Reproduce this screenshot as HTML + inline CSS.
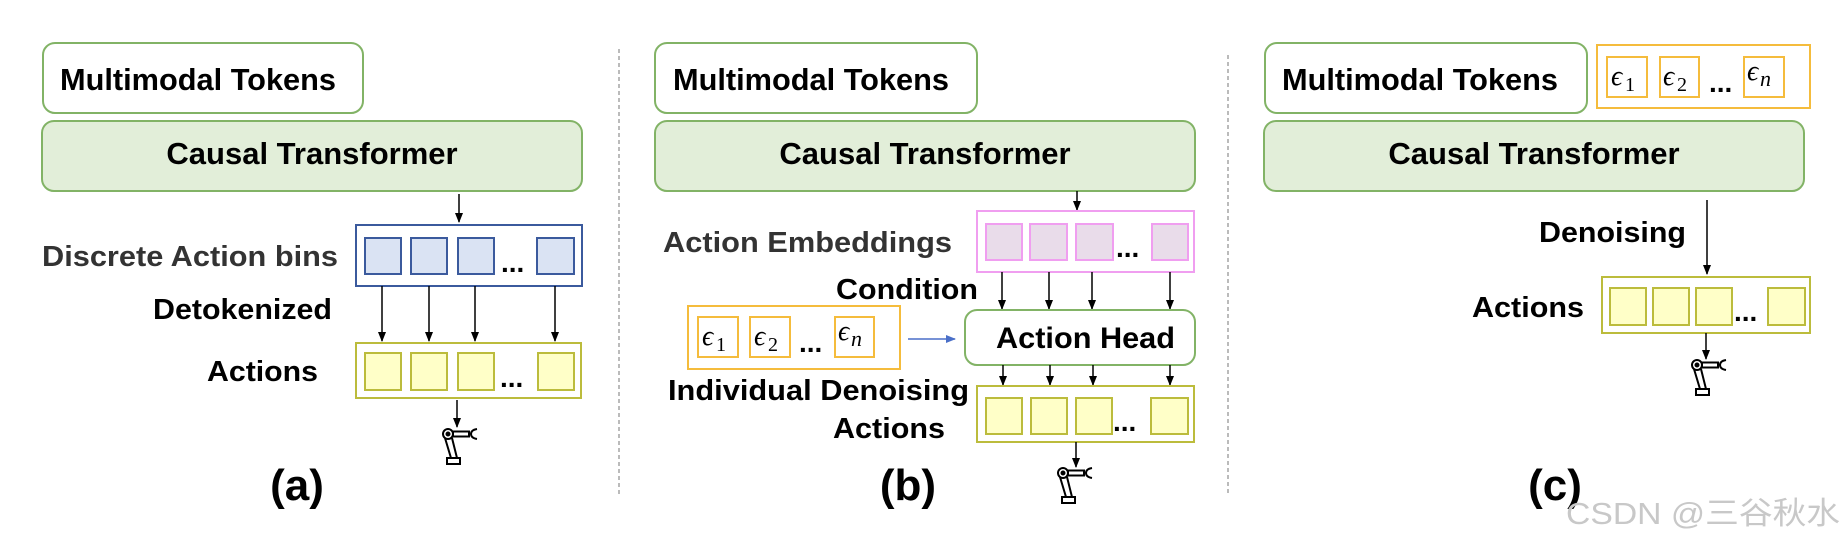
<!DOCTYPE html>
<html><head><meta charset="utf-8"><style>
html,body{margin:0;padding:0;background:#fff;}
svg{display:block;}
text{font-family:"Liberation Sans",sans-serif;font-weight:bold;}
.e{font-family:"Liberation Serif",serif;font-style:italic;font-weight:normal;}
.s{font-family:"Liberation Serif",serif;font-weight:normal;}
</style></head><body>
<svg width="1842" height="542" viewBox="0 0 1842 542" xmlns="http://www.w3.org/2000/svg">
<defs>
<marker id="ah" markerWidth="10" markerHeight="10" refX="9" refY="5" orient="auto" markerUnits="userSpaceOnUse">
<path d="M0,1 L10,5 L0,9 z" fill="#000"/></marker>
<marker id="bh" markerWidth="10" markerHeight="10" refX="9" refY="5" orient="auto" markerUnits="userSpaceOnUse">
<path d="M0,1 L10,5 L0,9 z" fill="#4a6fc8"/></marker>
<g id="robot" fill="none" stroke="#000" stroke-width="2">
<circle cx="-9" cy="6" r="5"/><circle cx="-9" cy="6" r="1.5" fill="#000"/>
<rect x="-4" y="3.5" width="16" height="5"/>
<path d="M20,1 Q14,2 14,6 Q14,10 20,11"/>
<path d="M-12,10 L-6,30 L0,30 L-5,10"/>
<rect x="-10" y="30" width="13" height="6"/>
</g>
</defs>

<!-- dashed separators -->
<line x1="619" y1="49" x2="619" y2="497" stroke="#777" stroke-width="1" stroke-dasharray="4,3"/>
<line x1="1228" y1="55" x2="1228" y2="495" stroke="#777" stroke-width="1" stroke-dasharray="4,3"/>

<!-- ===== Panel a ===== -->
<rect x="43" y="43" width="320" height="70" rx="12" fill="#fff" stroke="#82b366" stroke-width="2"/>
<text x="60" y="90" font-size="31" textLength="276" lengthAdjust="spacingAndGlyphs">Multimodal Tokens</text>
<rect x="42" y="121" width="540" height="70" rx="12" fill="#e2eed9" stroke="#82b366" stroke-width="2"/>
<text x="312" y="164" font-size="31" text-anchor="middle">Causal Transformer</text>
<line x1="459" y1="194" x2="459" y2="222" stroke="#000" stroke-width="1.5" marker-end="url(#ah)"/>
<rect x="356" y="225" width="226" height="61" fill="#fff" stroke="#3b5a9d" stroke-width="2"/>
<g fill="#dae3f3" stroke="#3b5a9d" stroke-width="2">
<rect x="365" y="238" width="36" height="36"/><rect x="411" y="238" width="36" height="36"/>
<rect x="458" y="238" width="36" height="36"/><rect x="537" y="238" width="37" height="36"/></g>
<text x="501" y="272" font-size="28">...</text>
<text x="42" y="266" font-size="29" fill="#333" textLength="296" lengthAdjust="spacingAndGlyphs">Discrete Action bins</text>
<g stroke="#000" stroke-width="1.5" marker-end="url(#ah)">
<line x1="382" y1="286" x2="382" y2="341"/><line x1="429" y1="286" x2="429" y2="341"/>
<line x1="475" y1="286" x2="475" y2="341"/><line x1="555" y1="286" x2="555" y2="341"/></g>
<text x="153" y="319" font-size="29" textLength="179" lengthAdjust="spacingAndGlyphs">Detokenized</text>
<rect x="356" y="343" width="225" height="55" fill="#fff" stroke="#bcbc3c" stroke-width="2"/>
<g fill="#ffffc8" stroke="#bcbc3c" stroke-width="2">
<rect x="365" y="353" width="36" height="37"/><rect x="411" y="353" width="36" height="37"/>
<rect x="458" y="353" width="36" height="37"/><rect x="538" y="353" width="36" height="37"/></g>
<text x="500" y="387" font-size="28">...</text>
<text x="207" y="381" font-size="29" textLength="111" lengthAdjust="spacingAndGlyphs">Actions</text>
<line x1="457" y1="400" x2="457" y2="427" stroke="#000" stroke-width="1.5" marker-end="url(#ah)"/>
<use href="#robot" x="457" y="428"/>
<text x="297" y="500" font-size="44" text-anchor="middle">(a)</text>

<!-- ===== Panel b ===== -->
<rect x="655" y="43" width="322" height="70" rx="12" fill="#fff" stroke="#82b366" stroke-width="2"/>
<text x="673" y="90" font-size="31" textLength="276" lengthAdjust="spacingAndGlyphs">Multimodal Tokens</text>
<rect x="655" y="121" width="540" height="70" rx="12" fill="#e2eed9" stroke="#82b366" stroke-width="2"/>
<text x="925" y="164" font-size="31" text-anchor="middle">Causal Transformer</text>
<line x1="1077" y1="191" x2="1077" y2="210" stroke="#000" stroke-width="1.5" marker-end="url(#ah)"/>
<rect x="977" y="211" width="217" height="61" fill="#fff" stroke="#f09ef0" stroke-width="2"/>
<g fill="#e9dcea" stroke="#f09ef0" stroke-width="2">
<rect x="986" y="224" width="36" height="36"/><rect x="1030" y="224" width="37" height="36"/>
<rect x="1076" y="224" width="37" height="36"/><rect x="1152" y="224" width="36" height="36"/></g>
<text x="1116" y="257" font-size="28">...</text>
<text x="663" y="252" font-size="29" fill="#333" textLength="289" lengthAdjust="spacingAndGlyphs">Action Embeddings</text>
<g stroke="#000" stroke-width="1.5" marker-end="url(#ah)">
<line x1="1002" y1="272" x2="1002" y2="309"/><line x1="1049" y1="272" x2="1049" y2="309"/>
<line x1="1092" y1="272" x2="1092" y2="309"/><line x1="1170" y1="272" x2="1170" y2="309"/></g>
<text x="836" y="299" font-size="29" textLength="142" lengthAdjust="spacingAndGlyphs">Condition</text>
<rect x="688" y="306" width="212" height="63" fill="#fff" stroke="#f5bc3c" stroke-width="2"/>
<g fill="#fff" stroke="#f5bc3c" stroke-width="2">
<rect x="698" y="317" width="40" height="40"/><rect x="750" y="317" width="40" height="40"/>
<rect x="835" y="317" width="39" height="40"/></g>
<text x="702" y="345" font-size="28" class="e">ϵ</text><text x="716" y="351" font-size="20" class="s">1</text>
<text x="754" y="345" font-size="28" class="e">ϵ</text><text x="768" y="351" font-size="20" class="s">2</text>
<text x="838" y="340" font-size="28" class="e">ϵ</text><text x="851" y="346" font-size="22" class="e">n</text>
<text x="799" y="352" font-size="28">...</text>
<line x1="908" y1="339" x2="955" y2="339" stroke="#4a6fc8" stroke-width="1.5" marker-end="url(#bh)"/>
<rect x="965" y="310" width="230" height="55" rx="12" fill="#fff" stroke="#82b366" stroke-width="2"/>
<text x="996" y="348" font-size="30" textLength="179" lengthAdjust="spacingAndGlyphs">Action Head</text>
<g stroke="#000" stroke-width="1.5" marker-end="url(#ah)">
<line x1="1003" y1="365" x2="1003" y2="385"/><line x1="1050" y1="365" x2="1050" y2="385"/>
<line x1="1093" y1="365" x2="1093" y2="385"/><line x1="1170" y1="365" x2="1170" y2="385"/></g>
<rect x="977" y="386" width="217" height="56" fill="#fff" stroke="#bcbc3c" stroke-width="2"/>
<g fill="#ffffc8" stroke="#bcbc3c" stroke-width="2">
<rect x="986" y="398" width="36" height="36"/><rect x="1031" y="398" width="36" height="36"/>
<rect x="1076" y="398" width="36" height="36"/><rect x="1151" y="398" width="37" height="36"/></g>
<text x="1113" y="431" font-size="28">...</text>
<text x="668" y="400" font-size="29" textLength="301" lengthAdjust="spacingAndGlyphs">Individual Denoising</text>
<text x="833" y="438" font-size="29" textLength="112" lengthAdjust="spacingAndGlyphs">Actions</text>
<line x1="1076" y1="442" x2="1076" y2="467" stroke="#000" stroke-width="1.5" marker-end="url(#ah)"/>
<use href="#robot" x="1072" y="467"/>
<text x="908" y="500" font-size="44" text-anchor="middle">(b)</text>

<!-- ===== Panel c ===== -->
<rect x="1265" y="43" width="322" height="70" rx="12" fill="#fff" stroke="#82b366" stroke-width="2"/>
<text x="1282" y="90" font-size="31" textLength="276" lengthAdjust="spacingAndGlyphs">Multimodal Tokens</text>
<rect x="1597" y="45" width="213" height="63" fill="#fff" stroke="#f5bc3c" stroke-width="2"/>
<g fill="#fff" stroke="#f5bc3c" stroke-width="2">
<rect x="1607" y="57" width="40" height="40"/><rect x="1660" y="57" width="39" height="40"/>
<rect x="1744" y="57" width="40" height="40"/></g>
<text x="1611" y="85" font-size="28" class="e">ϵ</text><text x="1625" y="91" font-size="20" class="s">1</text>
<text x="1663" y="85" font-size="28" class="e">ϵ</text><text x="1677" y="91" font-size="20" class="s">2</text>
<text x="1747" y="80" font-size="28" class="e">ϵ</text><text x="1760" y="86" font-size="22" class="e">n</text>
<text x="1709" y="92" font-size="28">...</text>
<rect x="1264" y="121" width="540" height="70" rx="12" fill="#e2eed9" stroke="#82b366" stroke-width="2"/>
<text x="1534" y="164" font-size="31" text-anchor="middle">Causal Transformer</text>
<line x1="1707" y1="200" x2="1707" y2="274" stroke="#000" stroke-width="1.5" marker-end="url(#ah)"/>
<text x="1539" y="242" font-size="29" textLength="147" lengthAdjust="spacingAndGlyphs">Denoising</text>
<rect x="1602" y="277" width="208" height="56" fill="#fff" stroke="#bcbc3c" stroke-width="2"/>
<g fill="#ffffc8" stroke="#bcbc3c" stroke-width="2">
<rect x="1610" y="288" width="36" height="37"/><rect x="1653" y="288" width="36" height="37"/>
<rect x="1696" y="288" width="36" height="37"/><rect x="1768" y="288" width="37" height="37"/></g>
<text x="1734" y="321" font-size="28">...</text>
<text x="1472" y="317" font-size="29" textLength="112" lengthAdjust="spacingAndGlyphs">Actions</text>
<line x1="1706" y1="333" x2="1706" y2="359" stroke="#000" stroke-width="1.5" marker-end="url(#ah)"/>
<use href="#robot" x="1706" y="359"/>
<text x="1555" y="500" font-size="44" text-anchor="middle">(c)</text>
<text x="1566" y="524" font-size="31" fill="#c8c8c8" style="font-weight:normal;font-family:'Liberation Sans','Noto Sans CJK SC',sans-serif" textLength="274" lengthAdjust="spacingAndGlyphs">CSDN @三谷秋水</text>
</svg>
</body></html>
